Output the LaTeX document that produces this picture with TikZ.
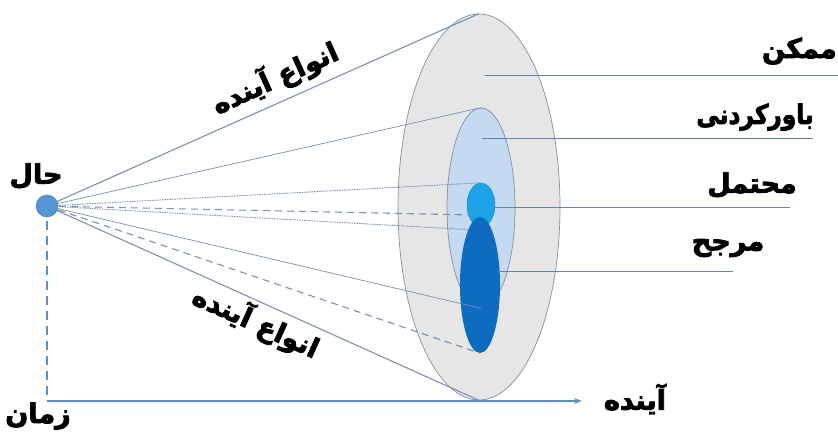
\documentclass[tikz,border=0pt]{standalone}
\usepackage{fontspec}
\usetikzlibrary{shapes.geometric,arrows.meta}
\newfontfamily\arabicfont[Script=Arabic, FakeBold=3, BoldFeatures={FakeBold=3}]{DejaVu Sans}
\TeXXeTstate=1
\definecolor{conegray}{HTML}{E6E6E6}
\definecolor{rimline}{HTML}{7F91A6}
\definecolor{midblue}{HTML}{C5DAF0}
\definecolor{brightblue}{HTML}{1DA4E8}
\definecolor{darkblue}{HTML}{0D6BC0}
\definecolor{rayline}{HTML}{7893B0}
\definecolor{callline}{HTML}{5A86B4}
\definecolor{axisblue}{HTML}{5B90C8}
\definecolor{dotblue}{HTML}{5496D8}
\tikzset{
  blob/.style={ellipse, inner sep=0pt, draw=rimline, line width=0.7pt},
  ray/.style={draw=rayline, line width=0.7pt},
  raybold/.style={draw=rayline, line width=1.1pt},
  raydash/.style={draw=rayline, line width=1.1pt, dash pattern=on 7pt off 5pt},
  raydot/.style={draw=rayline, line width=0.9pt, dash pattern=on 1.5pt off 1pt},
  callout/.style={draw=callline, line width=0.9pt},
  lbl/.style={font=\fontsize{27}{31}\selectfont\arabicfont\bfseries, text=black, inner sep=0pt},
}
\begin{document}
\begin{tikzpicture}[x=1pt,y=-1pt]
\useasboundingbox[fill=white] (0,0) rectangle (838,433);
% ellipses
\node[blob, fill=conegray, minimum width=162pt, minimum height=386pt] (outer) at (479,207) {};
\node[blob, fill=midblue, minimum width=68pt, minimum height=200pt] (mid) at (481,208) {};
\node[ellipse, inner sep=0pt, fill=brightblue, draw=brightblue!85!black, line width=0.4pt, minimum width=28pt, minimum height=44pt] (small) at (481,205) {};
\node[ellipse, inner sep=0pt, fill=darkblue, minimum width=40pt, minimum height=136pt] (dark) at (480,285) {};
% present
\coordinate (now) at (47,206);
% rays
\draw[raybold] (now) -- (outer.north);
\draw[raybold] (now) -- (outer.south);
\draw[ray] (now) -- (mid.north);
\draw[ray] (now) -- (mid.south);
\draw[raydot] (now) -- (small.north);
\draw[raydash] (now) -- (small.218);
\draw[raydot] (now) -- (dark.102);
\draw[raydash] (now) -- (dark.south);
% time axis
\coordinate (corner) at (47,401);
\coordinate (axisend) at (582,401);
\draw[axisblue, line width=2.6pt, dash pattern=on 9pt off 6pt] (now) -- (corner);
\draw[axisblue, line width=2pt, -{Stealth[length=8pt,width=6pt]}] (corner) -- (axisend);
\node[circle, fill=dotblue, draw=dotblue!80!black, line width=0.4pt, minimum size=22pt, inner sep=0pt] (dot) at (now) {};
% callouts
\coordinate (c1a) at (485,75);   \coordinate (c1b) at (838,75);
\coordinate (c2a) at (482,138);  \coordinate (c2b) at (813,138);
\coordinate (c3a) at (493,207);  \coordinate (c3b) at (790,207);
\coordinate (c4a) at (498,271);  \coordinate (c4b) at (733,271);
\draw[callout] (c1a) -- (c1b);
\draw[callout] (c2a) -- (c2b);
\draw[callout] (c3a) -- (c3b);
\draw[callout] (c4a) -- (c4b);
% labels
\node[lbl] (lnow) at (36,176) {\beginR حال\endR};
\node[lbl] (ltime) at (38,416) {\beginR زمان\endR};
\node[lbl] (lfut) at (635,399) {\beginR آینده\endR};
\node[lbl, rotate=24.4] (ltypes1) at (275,78) {\beginR انواع آینده\endR};
\node[lbl, rotate=-24.4] (ltypes2) at (256,322) {\beginR انواع آینده\endR};
\node[lbl, anchor=east] (lposs) at (837,51) {\beginR ممکن\endR};
\node[lbl, xscale=0.86] (lplaus) at (755,117) {\beginR باورکردنی\endR};
\node[lbl] (lprob) at (752,185) {\beginR محتمل\endR};
\node[lbl] (lpref) at (728,248) {\beginR مرجح\endR};
\end{tikzpicture}
\end{document}
